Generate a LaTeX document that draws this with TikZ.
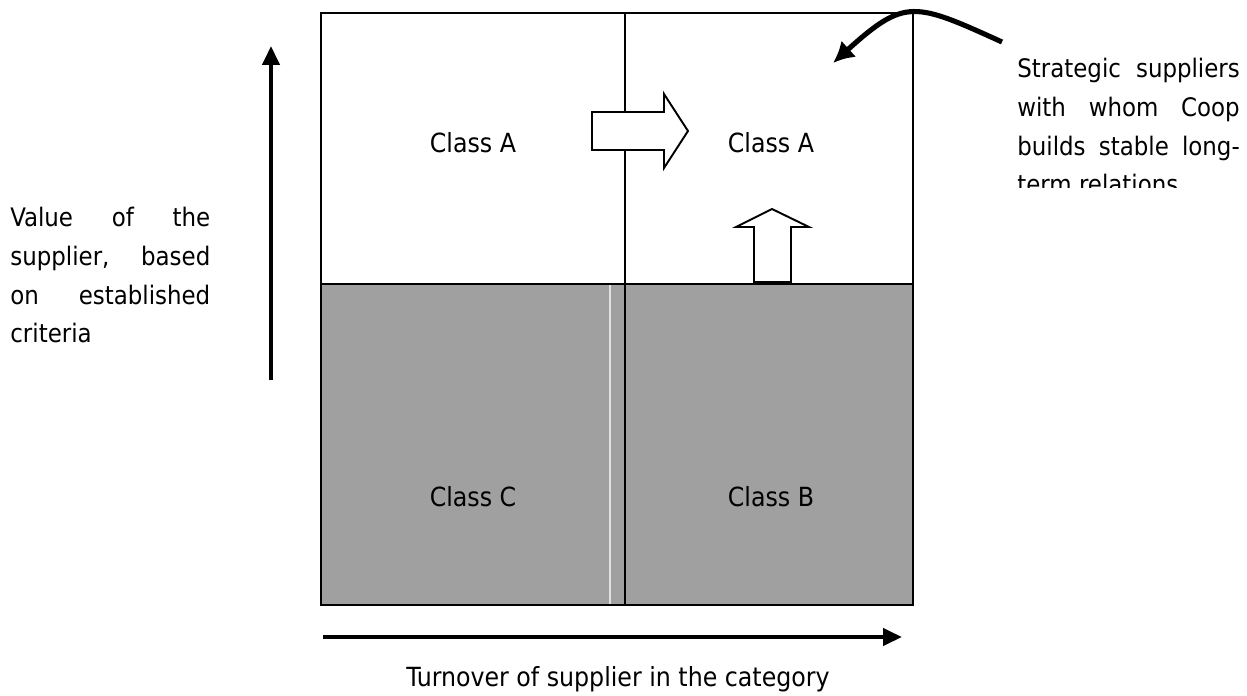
\documentclass[tikz,border=0pt]{standalone}
\usepackage{fontspec}
\setmainfont{DejaVu Sans Condensed}
\usetikzlibrary{arrows.meta}
\definecolor{classgray}{HTML}{A0A0A0}
\newcommand\notefont{\fontsize{14.5}{22}\selectfont\hyphenpenalty=10000\relax}
\tikzset{
  frame/.style={line width=1.4pt},
  axis/.style={line width=2.4pt,-{Triangle[length=3.8mm,width=3.4mm]}},
  blockarrow/.style={line width=1.1pt,fill=white,line join=miter},
  classlbl/.style={font=\fontsize{15}{22}\selectfont},
  note/.style={font=\notefont,align=justify,inner sep=0pt,anchor=north west}
}
\begin{document}
\begin{tikzpicture}[x=0.02cm,y=-0.02cm]
\useasboundingbox(0,0)rectangle(1247,696);
% quadrants
\fill[classgray](321,284)rectangle(913,605);
\draw[white!70!classgray,line width=.6pt](610,284)--(610,605);
\draw[frame](321,13)rectangle(913,605);
\draw[frame](625,13)--(625,605);
\draw[frame](321,284)--(913,284);
\node[classlbl](tl)at(473,143){Class A};
\node[classlbl](tr)at(771,143){Class A};
\node[classlbl](bl)at(473,497){Class C};
\node[classlbl](br)at(771,497){Class B};
% block arrows
\draw[blockarrow](592,112)--(664,112)--(664,94)--(688,131)--(664,168)--(664,150)--(592,150)--cycle;
\draw[blockarrow](754,282)--(754,227)--(736,227)--(772,209)--(809,227)--(791,227)--(791,282)--cycle;
% axes
\coordinate(vfrom)at(271,380);
\coordinate(vto)at(271,46);
\coordinate(hfrom)at(323,637);
\coordinate(hto)at(902,637);
\draw[axis](vfrom)--(vto);
\draw[axis](hfrom)--(hto);
\node[note,text width=4cm](value)at(10,207){\hyphenpenalty=10000 Value of the supplier, based on established criteria};
\node[anchor=north](turnover)at(618,660){\fontsize{15}{22}\selectfont Turnover of supplier in the category};
% strategic note
\coordinate(cstart)at(1002,42);
\coordinate(cend)at(833,63);
\draw[line width=2.9pt,-{Latex[length=4.2mm,width=4.4mm]}](cstart)..controls(914,2)and(905,-2)..(cend);
\begin{scope}
\clip(1000,40)rectangle(1247,187);
\node[note,text width=4.45cm](strategic)at(1017,58){\hyphenpenalty=10000 Strategic suppliers with whom Coop builds stable long-term relations};
\end{scope}
\end{tikzpicture}
\end{document}
